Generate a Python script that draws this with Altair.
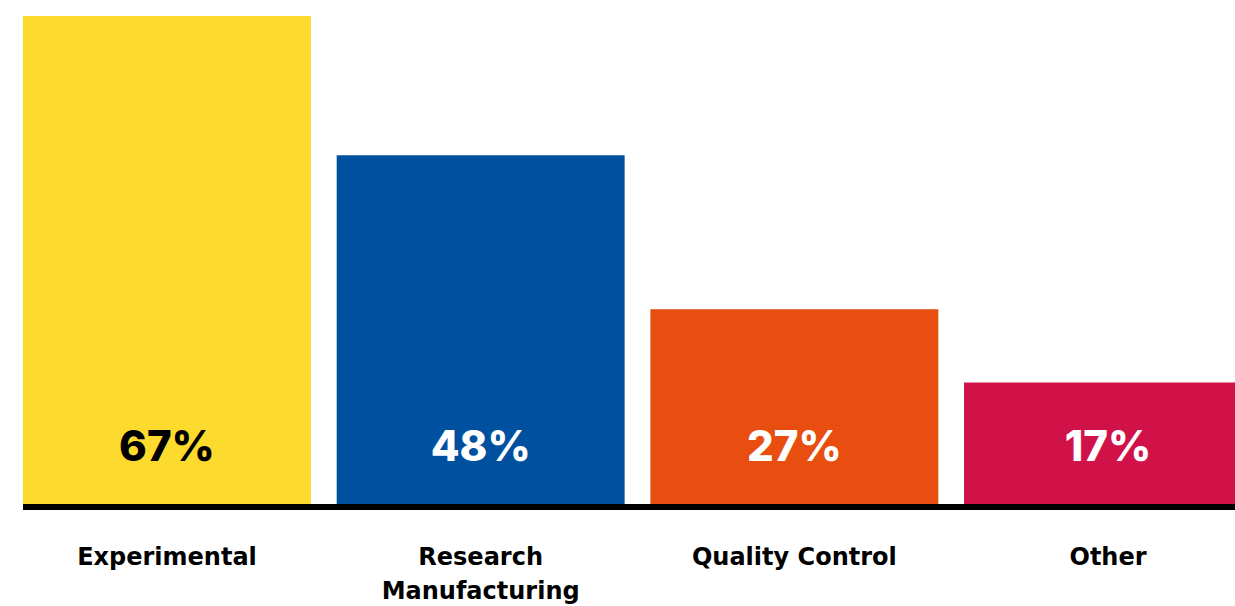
import altair as alt
import pandas as pd

categories = ["Experimental", "Research\nManufacturing", "Quality Control", "Other"]
values = [67, 48, 27, 17]
labels = ["67%", "48%", "27%", "17%"]
bar_colors = ["#FDDA2E", "#0050A0", "#E74E0F", "#D01249"]
text_colors = ["black", "white", "white", "white"]

df = pd.DataFrame({"cat": categories, "value": values, "label": labels,
                   "tc": text_colors})

W, H = 1212, 491

x = alt.X("cat:N", sort=categories, axis=None,
          scale=alt.Scale(range=[0, 1229], paddingInner=0.082, paddingOuter=0))
y = alt.Y("value:Q", axis=None, scale=alt.Scale(domain=[0, 67], nice=False))

bars = alt.Chart(df).mark_bar().encode(
    x=x, y=y,
    color=alt.Color("cat:N", sort=categories, legend=None,
                    scale=alt.Scale(domain=categories, range=bar_colors)))

pct = alt.Chart(df).mark_text(font="Inter", fontSize=42, fontWeight=800,
                              baseline="alphabetic", align="center").encode(
    x=x, y=alt.value(445), text="label:N",
    color=alt.Color("tc:N", scale=None))

cat_text = alt.Chart(df).mark_text(font="DejaVu Sans", fontSize=24, fontWeight="bold",
                                   baseline="alphabetic", align="center",
                                   lineBreak="\n", lineHeight=34, color="black").encode(
    x=x, y=alt.value(549), text="cat:N")

base = alt.Chart(df).mark_rule(color="black", strokeWidth=6).encode(
    x=alt.value(0), x2=alt.value(W), y=alt.datum(0))

chart = alt.layer(bars, pct, base, cat_text).properties(
    width=W, height=H,
    padding={"left": 23, "top": 16, "right": 0, "bottom": 99},
    autosize=alt.AutoSizeParams(type="none"),
).configure_view(stroke=None)

chart.save("out.html", embed_options={"renderer": "svg", "actions": False})
